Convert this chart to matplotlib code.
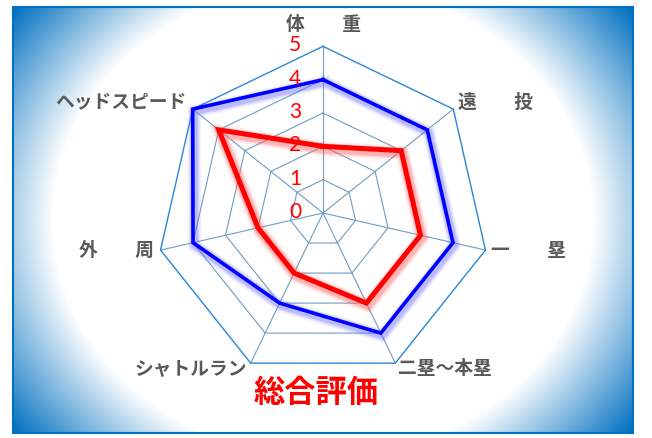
import numpy as np
import matplotlib.pyplot as plt
from matplotlib import transforms
from matplotlib.patches import Rectangle

plt.rcParams['font.family'] = ['Noto Sans CJK JP', 'DejaVu Sans']

# chart data
categories = ['体　　重', '遠　　投', '一　　塁', '二塁～本塁', 'シャトルラン', '外　　周', 'ヘッドスピード']
blue_values = [4, 4, 4, 4, 3, 4, 5]
red_values = [2, 3, 3, 3, 2, 2, 4]
scale_ticks = [0, 1, 2, 3, 4, 5]
title = '総合評価'

W, H = 652, 438
fig = plt.figure(figsize=(W / 100, H / 100), dpi=100)

# background with radial gradient and frame (pixel coords)
bg = fig.add_axes([0, 0, 1, 1])
x0, x1, y0, y1 = 13, 633, 7, 433
xx, yy = np.meshgrid(np.arange(x0, x1) + 0.5, np.arange(y0, y1) + 0.5)
d = np.sqrt(((xx - 323) / 270) ** 2 + ((yy - 220) / 237) ** 2)
t = np.clip((d - 1) / 0.45, 0, 1)
edge = np.array([0, 112, 192]) / 255
img = (1 - t[..., None]) + t[..., None] * edge
bg.imshow(img, extent=(x0, x1, y1, y0), interpolation='bilinear', aspect='auto')
bg.add_patch(Rectangle((x0, y0), x1 - x0, y1 - y0, fill=False, ec='#0070C0', lw=1.5))
bg.set_xlim(0, W)
bg.set_ylim(H, 0)
bg.axis('off')

# radar axes, one data unit = one scale step
unit = 33.33
cx, cy = 323, 213
ax = fig.add_axes([0, 0, 1, 1])
ax.set_xlim(-cx / unit, (W - cx) / unit)
ax.set_ylim(-(H - cy) / unit, cy / unit)
ax.axis('off')
ax.patch.set_alpha(0)

n = len(categories)
ang = np.arange(n) * 2 * np.pi / n


def to_xy(vals):
    v = np.asarray(vals, float)
    x = v * np.sin(ang)
    y = v * np.cos(ang)
    return np.append(x, x[0]), np.append(y, y[0])


rmax = scale_ticks[-1]
# spokes
for a in ang:
    ax.plot([0, rmax * np.sin(a)], [0, rmax * np.cos(a)], color='#6F9DC2', lw=0.8, zorder=1)
# rings
for lev in scale_ticks[1:]:
    gx, gy = to_xy([lev] * n)
    if lev == rmax:
        ax.plot(gx, gy, color='#2A86D6', lw=1.0, zorder=1)
    else:
        ax.plot(gx, gy, color='#6F9DC2', lw=0.8, zorder=1)

# series with soft glow
shadow = ax.transData + transforms.ScaledTranslation(1.5 / 100, -2.5 / 100, fig.dpi_scale_trans)
for vals, col, glow, lw in [(red_values, '#FF0000', '#FF6060', 3.6), (blue_values, '#0000FF', '#7070FF', 2.6)]:
    sx, sy = to_xy(vals)
    for extra, alpha in [(7, 0.1), (4.5, 0.18), (2.5, 0.28)]:
        ax.plot(sx, sy, color=glow, lw=lw + extra, alpha=alpha, transform=shadow,
                solid_joinstyle='miter', zorder=2)
    ax.plot(sx, sy, color=col, lw=lw, solid_joinstyle='miter', zorder=3)

# scale labels
for v in scale_ticks:
    ax.annotate(str(v), (0, v), xytext=(-22, 1), textcoords='offset pixels',
                ha='right', va='center', color='#FF0000', fontsize=15,
                family=['Lato', 'DejaVu Sans'], zorder=4)

# category labels
offsets = [(0, 22, 'center'), (5, 7, 'left'), (6, 0, 'left'), (3, -5, 'left'),
           (-4, -5, 'right'), (-7, 0, 'right'), (-6, 7, 'right')]
for i, lab in enumerate(categories):
    ox, oy, ha = offsets[i]
    ax.annotate(lab, (rmax * np.sin(ang[i]), rmax * np.cos(ang[i])), xytext=(ox, oy),
                textcoords='offset pixels', ha=ha, va='center', color='#595959',
                fontsize=13.5, fontweight='bold', zorder=4)

fig.text(316 / W, 1 - 393 / H, title, ha='center', va='center', color='#FF0000',
         fontsize=22.5, fontweight='bold')

fig.savefig('out.png', dpi=100)
